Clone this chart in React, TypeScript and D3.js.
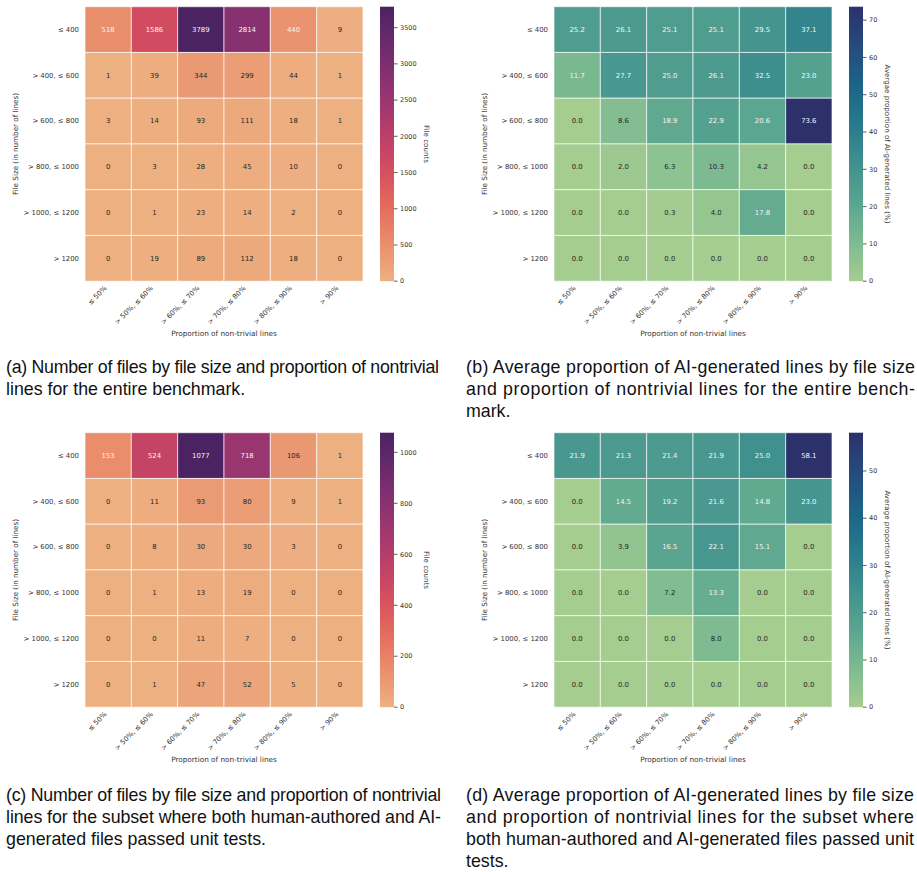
import React from 'react';
import * as d3 from 'd3';

// Row / column categories shared by all four heatmaps
const rowLabels = ['≤ 400', '> 400, ≤ 600', '> 600, ≤ 800', '> 800, ≤ 1000', '> 1000, ≤ 1200', '> 1200'];
const colLabels = ['≤ 50%', '> 50%, ≤ 60%', '> 60%, ≤ 70%', '> 70%, ≤ 80%', '> 80%, ≤ 90%', '> 90%'];

// (a) file counts, entire benchmark
const countsAll = [
  [518, 1586, 3789, 2814, 440, 9],
  [1, 39, 344, 299, 44, 1],
  [3, 14, 93, 111, 18, 1],
  [0, 3, 28, 45, 10, 0],
  [0, 1, 23, 14, 2, 0],
  [0, 19, 89, 112, 18, 0],
];

// (b) average share of AI-generated lines (%), entire benchmark
const aiShareAll = [
  [25.2, 26.1, 25.1, 25.1, 29.5, 37.1],
  [11.7, 27.7, 25.0, 26.1, 32.5, 23.0],
  [0.0, 8.6, 18.9, 22.9, 20.6, 73.6],
  [0.0, 2.0, 6.3, 10.3, 4.2, 0.0],
  [0.0, 0.0, 0.3, 4.0, 17.8, 0.0],
  [0.0, 0.0, 0.0, 0.0, 0.0, 0.0],
];

// (c) file counts, subset passing unit tests
const countsPassed = [
  [153, 524, 1077, 718, 106, 1],
  [0, 11, 93, 80, 9, 1],
  [0, 8, 30, 30, 3, 0],
  [0, 1, 13, 19, 0, 0],
  [0, 0, 11, 7, 0, 0],
  [0, 1, 47, 52, 5, 0],
];

// (d) average share of AI-generated lines (%), subset passing unit tests
const aiSharePassed = [
  [21.9, 21.3, 21.4, 21.9, 25.0, 58.1],
  [0.0, 14.5, 19.2, 21.6, 14.8, 23.0],
  [0.0, 3.9, 16.5, 22.1, 15.1, 0.0],
  [0.0, 0.0, 7.2, 13.3, 0.0, 0.0],
  [0.0, 0.0, 0.0, 8.0, 0.0, 0.0],
  [0.0, 0.0, 0.0, 0.0, 0.0, 0.0],
];

const captionA = [
  '(a) Number of files by file size and proportion of nontrivial',
  'lines for the entire benchmark.',
];
const captionB = [
  '(b) Average proportion of AI-generated lines by file size',
  'and proportion of nontrivial lines for the entire bench-',
  'mark.',
];
const captionC = [
  '(c) Number of files by file size and proportion of nontrivial',
  'lines for the subset where both human-authored and AI-',
  'generated files passed unit tests.',
];
const captionD = [
  '(d) Average proportion of AI-generated lines by file size',
  'and proportion of nontrivial lines for the subset where',
  'both human-authored and AI-generated files passed unit',
  'tests.',
];

// Colormap stops (seaborn "flare" and "crest")
const flareStops = ['#edb081', '#e98d6b', '#e3685c', '#d14a61', '#b13c6c', '#8f3371', '#6c2b6d', '#4b2362'];
const crestStops = ['#a5cd90', '#7dba91', '#59a590', '#40908e', '#287a8c', '#1c6488', '#254b7f', '#2c316b'];

const FONT = 'DejaVu Sans, sans-serif';
const TXT = '#333333';

function makeColor(stops: string[], max: number) {
  const dom = stops.map((_, i) => (i / (stops.length - 1)) * max);
  return d3.scaleLinear<string>().domain(dom).range(stops).interpolate(d3.interpolateRgb).clamp(true);
}

function luminance(c: string) {
  const rgb = d3.rgb(c);
  const f = (v: number) => {
    v /= 255;
    return v <= 0.03928 ? v / 12.92 : Math.pow((v + 0.055) / 1.055, 2.4);
  };
  return 0.2126 * f(rgb.r) + 0.7152 * f(rgb.g) + 0.0722 * f(rgb.b);
}

type HeatmapProps = {
  id: string;
  values: number[][];
  stops: string[];
  fmt: string;
  cbarLabel: string;
  ox: number;
  oy: number;
};

function Heatmap({ id, values, stops, fmt, cbarLabel, ox, oy }: HeatmapProps) {
  const W = 278;
  const H = 274.5;
  const x = d3.scaleBand<string>().domain(colLabels).range([0, W]);
  const y = d3.scaleBand<string>().domain(rowLabels).range([0, H]);
  const max = d3.max(values.flat()) as number;
  const color = makeColor(stops, max);
  const format = d3.format(fmt);
  const cb = d3.scaleLinear().domain([0, max]).range([H, 0]);
  const ticks = cb.ticks(6);
  const cbX = W + 17;
  const cbW = 14;
  const tickLabelX = cbX + cbW + 6;
  const maxDigits = d3.max(ticks, (t) => String(t).length) as number;
  const cbLabelX = tickLabelX + maxDigits * 4.05 + 10;
  const gradStops = d3.range(0, 1.0001, 0.05);

  return (
    <g transform={`translate(${ox},${oy})`}>
      <defs>
        <linearGradient id={id} x1="0" y1="1" x2="0" y2="0">
          {gradStops.map((t) => (
            <stop key={t} offset={t} stopColor={color(t * max)} />
          ))}
        </linearGradient>
      </defs>
      {values.map((row, ri) =>
        row.map((v, ci) => {
          const c = color(v);
          return (
            <g key={`${ri}-${ci}`}>
              <rect
                x={x(colLabels[ci])}
                y={y(rowLabels[ri])}
                width={x.bandwidth()}
                height={y.bandwidth()}
                fill={c}
                stroke="#ffffff"
                strokeOpacity={0.65}
                strokeWidth={1}
              />
              <text
                x={(x(colLabels[ci]) as number) + x.bandwidth() / 2}
                y={(y(rowLabels[ri]) as number) + y.bandwidth() / 2}
                dy="0.35em"
                textAnchor="middle"
                fontFamily={FONT}
                fontSize={6.9}
                fill={luminance(c) > 0.408 ? '#262626' : '#f4f4f4'}
              >
                {format(v)}
              </text>
            </g>
          );
        })
      )}
      {rowLabels.map((r) => (
        <text
          key={r}
          x={-6}
          y={(y(r) as number) + y.bandwidth() / 2}
          dy="0.35em"
          textAnchor="end"
          fontFamily={FONT}
          fontSize={6.9}
          fill={TXT}
        >
          {r}
        </text>
      ))}
      {colLabels.map((c) => (
        <text
          key={c}
          transform={`translate(${(x(c) as number) + x.bandwidth() / 2 - 1},${H + 7.5}) rotate(-45)`}
          textAnchor="end"
          fontFamily={FONT}
          fontSize={6.9}
          fill={TXT}
        >
          {c}
        </text>
      ))}
      <text x={W / 2} y={H + 55} textAnchor="middle" fontFamily={FONT} fontSize={7.3} fill={TXT}>
        Proportion of non-trivial lines
      </text>
      <text
        transform={`translate(${-69.3},${H / 2}) rotate(-90)`}
        dy="0.35em"
        textAnchor="middle"
        fontFamily={FONT}
        fontSize={7.2}
        fill={TXT}
      >
        File Size (in number of lines)
      </text>
      <rect x={cbX} y={0} width={cbW} height={H} fill={`url(#${id})`} />
      {ticks.map((t) => (
        <g key={t}>
          <line x1={cbX + cbW} x2={cbX + cbW + 3.5} y1={cb(t)} y2={cb(t)} stroke={TXT} strokeWidth={0.8} />
          <text x={tickLabelX} y={cb(t)} dy="0.35em" fontFamily={FONT} fontSize={6.5} fill={TXT}>
            {t}
          </text>
        </g>
      ))}
      <text
        transform={`translate(${cbLabelX},${H / 2}) rotate(90)`}
        dy="0.35em"
        textAnchor="middle"
        fontFamily={FONT}
        fontSize={7.1}
        fill={TXT}
      >
        {cbarLabel}
      </text>
    </g>
  );
}

type CaptionProps = { lines: string[]; x: number; y: number; width: number };

function Caption({ lines, x, y, width }: CaptionProps) {
  return (
    <g>
      {lines.map((l, i) => (
        <text
          key={i}
          x={x}
          y={y + i * 22}
          fontFamily="Liberation Sans, Arial, sans-serif"
          fontSize={17.8}
          fill="#111111"
          textLength={i < lines.length - 1 ? width : undefined}
          lengthAdjust="spacing"
        >
          {l}
        </text>
      ))}
    </g>
  );
}

export default function App() {
  return (
    <div style={{ position: 'absolute', left: 0, top: 0 }}>
      <svg width={917} height={872} style={{ display: 'block', background: '#ffffff' }}>
        <Heatmap id="gA" values={countsAll} stops={flareStops} fmt="d" cbarLabel="File counts" ox={85} oy={6.7} />
        <Heatmap
          id="gB"
          values={aiShareAll}
          stops={crestStops}
          fmt=".1f"
          cbarLabel="Avergae proportion of AI-generated lines (%)"
          ox={554}
          oy={6.7}
        />
        <Heatmap id="gC" values={countsPassed} stops={flareStops} fmt="d" cbarLabel="File counts" ox={85} oy={432.7} />
        <Heatmap
          id="gD"
          values={aiSharePassed}
          stops={crestStops}
          fmt=".1f"
          cbarLabel="Average proportion of AI-generated lines (%)"
          ox={554}
          oy={432.7}
        />
        <Caption lines={captionA} x={6} y={373} width={433} />
        <Caption lines={captionB} x={466} y={373} width={449} />
        <Caption lines={captionC} x={6} y={800.5} width={435} />
        <Caption lines={captionD} x={466} y={800.5} width={448} />
      </svg>
    </div>
  );
}
